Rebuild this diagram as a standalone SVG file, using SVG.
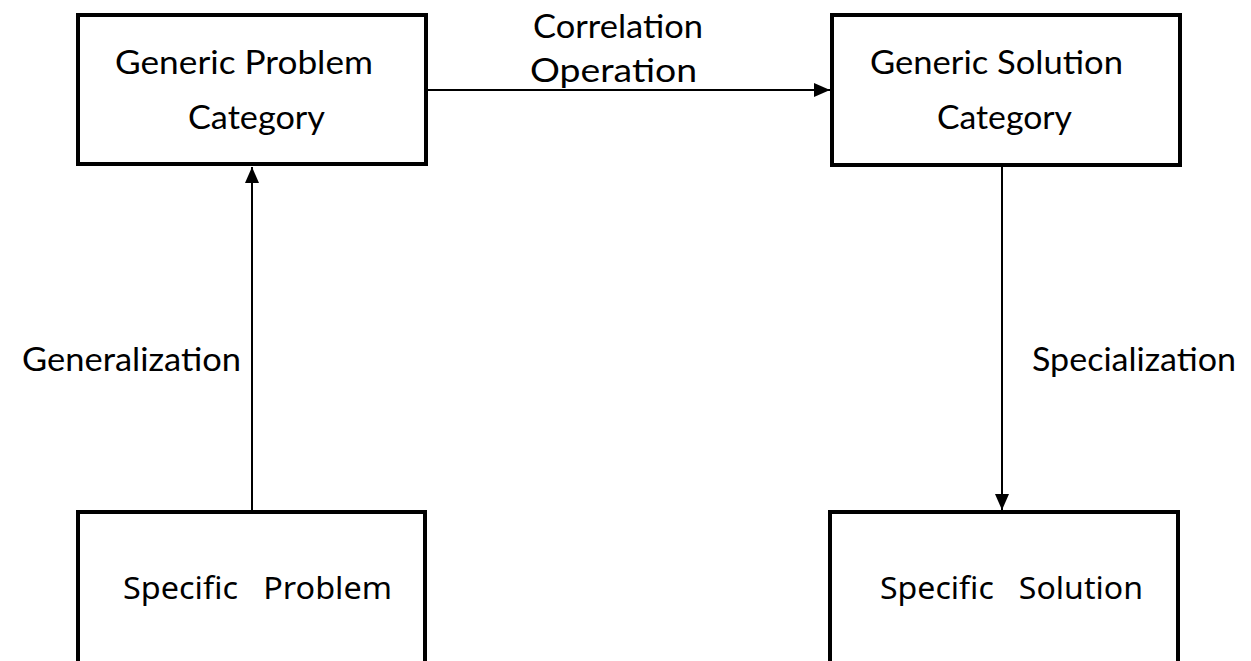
<svg xmlns="http://www.w3.org/2000/svg" width="1251" height="661" viewBox="0 0 1251 661">
  <style>
    .box { fill: #ffffff; stroke: #000000; stroke-width: 4; }
    .edge { fill: none; stroke: #000000; stroke-width: 2; }
    .t { font-family: "Lato", "Liberation Sans", sans-serif; font-size: 32px; fill: #000000; }
    .s { font-family: "Noto Sans", "Open Sans", sans-serif; font-size: 31px; fill: #000000; white-space: pre; }
  </style>
  <defs>
    <marker id="arrow" viewBox="0 0 16 14" refX="16" refY="7" markerWidth="16" markerHeight="14" markerUnits="userSpaceOnUse" orient="auto">
      <path d="M0,0 L16,7 L0,14 Z" fill="#000000"/>
    </marker>
  </defs>
  <rect width="1251" height="661" fill="#ffffff"/>

  <!-- connectors -->
  <g id="connectors">
    <path class="edge" d="M428,90 L830,90" marker-end="url(#arrow)"/>
    <path class="edge" d="M252,510 L252,167" marker-end="url(#arrow)"/>
    <path class="edge" d="M1002,167 L1002,510" marker-end="url(#arrow)"/>
  </g>

  <!-- nodes -->
  <g id="generic-problem">
    <rect class="box" x="78" y="15" width="348" height="149"/>
    <text class="t" x="115" y="74" textLength="258" lengthAdjust="spacingAndGlyphs">Generic Problem</text>
    <text class="t" x="188" y="129" textLength="137" lengthAdjust="spacingAndGlyphs">Category</text>
  </g>
  <g id="generic-solution">
    <rect class="box" x="832" y="15" width="348" height="150"/>
    <text class="t" x="870" y="74" textLength="253" lengthAdjust="spacingAndGlyphs">Generic Solution</text>
    <text class="t" x="937" y="129" textLength="135" lengthAdjust="spacingAndGlyphs">Category</text>
  </g>
  <g id="specific-problem">
    <rect class="box" x="78" y="512" width="347" height="160"/>
    <text class="s" x="123" y="599" textLength="269" lengthAdjust="spacingAndGlyphs">Specific   Problem</text>
  </g>
  <g id="specific-solution">
    <rect class="box" x="830" y="512" width="348" height="160"/>
    <text class="s" x="880" y="599" textLength="263" lengthAdjust="spacingAndGlyphs">Specific   Solution</text>
  </g>

  <!-- connector labels -->
  <g id="labels">
    <text class="t" x="533" y="38" textLength="170" lengthAdjust="spacingAndGlyphs">Correlation</text>
    <text class="t" x="530" y="82" textLength="167" lengthAdjust="spacingAndGlyphs">Operation</text>
    <text class="t" x="22" y="371" textLength="219" lengthAdjust="spacingAndGlyphs">Generalization</text>
    <text class="t" x="1032" y="371" textLength="204" lengthAdjust="spacingAndGlyphs">Specialization</text>
  </g>
</svg>
